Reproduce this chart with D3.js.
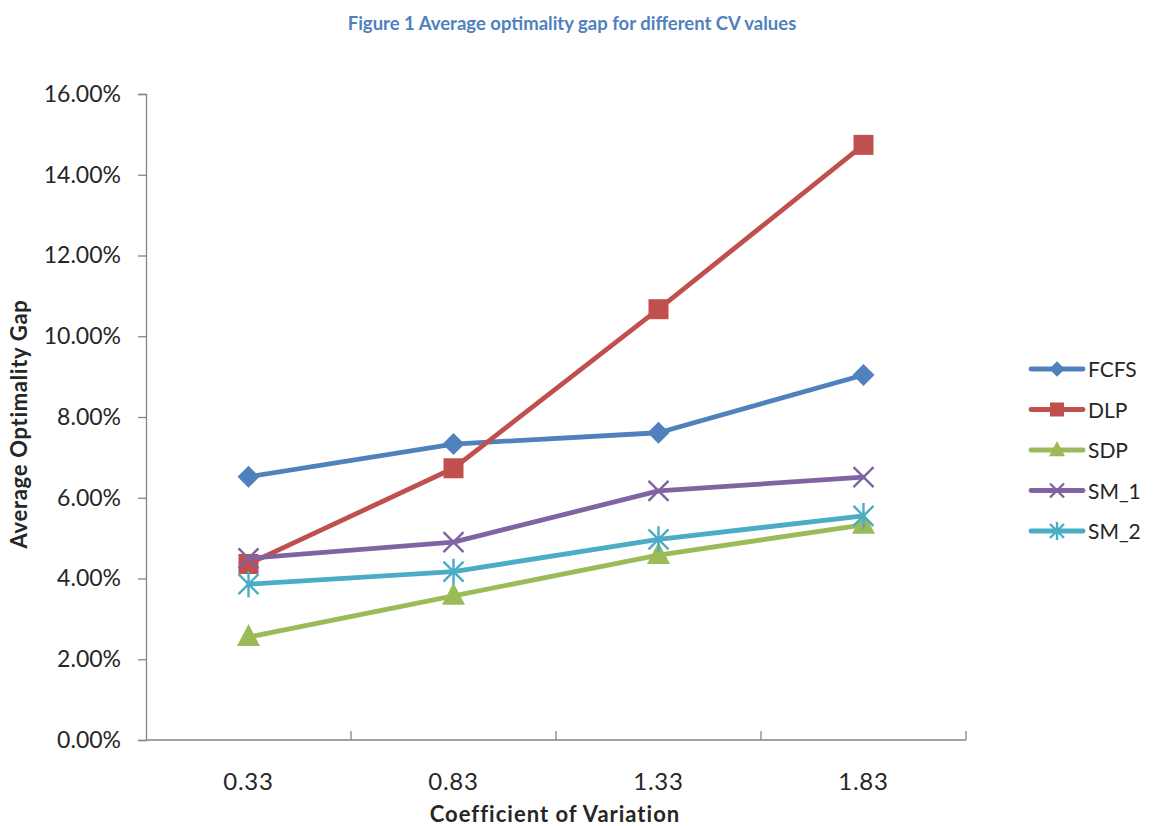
<!DOCTYPE html>
<html>
<head>
<meta charset="utf-8">
<script src="https://cdn.jsdelivr.net/npm/d3@7"></script>
<style>
  html, body { margin: 0; padding: 0; background: #fff; }
  svg { display: block; font-family: Lato, "Open Sans", sans-serif; }
</style>
</head>
<body>
<svg id="chart" width="1157" height="826"></svg>
<script>
// Coefficient of variation levels (x categories)
const categories = ["0.33", "0.83", "1.33", "1.83"];

// Average optimality gap (%) per heuristic
const seriesNames = ["FCFS", "DLP", "SDP", "SM_1", "SM_2"];
const fcfs = [6.52, 7.33, 7.61, 9.04];
const dlp  = [4.36, 6.73, 10.67, 14.74];
const sdp  = [2.55, 3.57, 4.58, 5.33];
const sm1  = [4.50, 4.90, 6.17, 6.51];
const sm2  = [3.86, 4.17, 4.97, 5.55];

const yTicks = [0, 2, 4, 6, 8, 10, 12, 14, 16];

const colors = ["#4F81BD", "#C0504D", "#9BBB59", "#8064A2", "#4BACC6"];
const markers = ["diamond", "square", "triangle", "x", "star"];
const values = [fcfs, dlp, sdp, sm1, sm2];

const series = seriesNames.map((name, i) => ({
  name, color: colors[i], marker: markers[i], values: values[i]
}));

const svg = d3.select("#chart");
const plot = { left: 146, right: 966, top: 94, bottom: 740 };

const x = d3.scaleBand().domain(categories).range([plot.left, plot.right]);
const y = d3.scaleLinear().domain([0, 16]).range([plot.bottom, plot.top]);

const axisColor = "#868686";
const textColor = "#262626";

// Title
svg.append("text")
  .attr("x", 572).attr("y", 30)
  .attr("text-anchor", "middle")
  .attr("font-weight", "bold")
  .attr("font-size", 18.5)
  .attr("fill", "#4F81BD")
  .text("Figure 1 Average optimality gap for different CV values");

// Y axis
const yAxis = svg.append("g")
  .attr("transform", `translate(${plot.left},0)`)
  .call(d3.axisLeft(y).tickValues(yTicks).tickSize(8).tickPadding(17)
    .tickFormat(d => d.toFixed(2) + "%"));
yAxis.select(".domain").attr("stroke", axisColor).attr("stroke-width", 1.3);
yAxis.selectAll(".tick line").attr("stroke", axisColor).attr("stroke-width", 1.3);
yAxis.selectAll(".tick text")
  .attr("font-size", 23).attr("fill", textColor)
  .attr("font-family", "Lato, sans-serif");

// X axis: tick marks sit at band boundaries and point into the plot
const boundaries = d3.range(1, categories.length).map(i => plot.left + i * x.bandwidth());
const xAxis = svg.append("g");
xAxis.append("line")
  .attr("x1", plot.left).attr("x2", plot.right)
  .attr("y1", plot.bottom).attr("y2", plot.bottom)
  .attr("stroke", axisColor).attr("stroke-width", 1.3);
xAxis.selectAll("line.tick").data(boundaries.concat([plot.right])).join("line")
  .attr("class", "tick")
  .attr("x1", d => d).attr("x2", d => d)
  .attr("y1", plot.bottom).attr("y2", plot.bottom - 9)
  .attr("stroke", axisColor).attr("stroke-width", 1.3);
xAxis.selectAll("text").data(categories).join("text")
  .attr("x", d => x(d) + x.bandwidth() / 2)
  .attr("y", 790)
  .attr("text-anchor", "middle")
  .attr("font-size", 24).attr("letter-spacing", 0.8).attr("fill", textColor)
  .text(d => d);

// Axis titles
svg.append("text")
  .attr("x", 555).attr("y", 822)
  .attr("text-anchor", "middle")
  .attr("font-weight", "bold").attr("font-size", 22).attr("letter-spacing", 1)
  .attr("fill", textColor)
  .text("Coefficient of Variation");

svg.append("text")
  .attr("transform", "translate(27,424) rotate(-90)")
  .attr("text-anchor", "middle")
  .attr("font-weight", "bold").attr("font-size", 22).attr("letter-spacing", 0.7)
  .attr("fill", textColor)
  .text("Average Optimality Gap");

// Marker drawing
function drawMarker(g, type, color, scale = 1) {
  const s = scale;
  if (type === "diamond") {
    g.append("path").attr("d", `M0,${-11*s}L${11*s},0L0,${11*s}L${-11*s},0Z`).attr("fill", color);
  } else if (type === "square") {
    g.append("rect").attr("x", -10*s).attr("y", -10*s).attr("width", 20*s).attr("height", 20*s).attr("fill", color);
  } else if (type === "triangle") {
    g.append("path").attr("d", `M0,${-13*s}L${11.5*s},${9*s}L${-11.5*s},${9*s}Z`).attr("fill", color);
  } else if (type === "x") {
    const r = 10 * s;
    g.append("path").attr("d", `M${-r},${-r}L${r},${r}M${-r},${r}L${r},${-r}`)
      .attr("stroke", color).attr("stroke-width", 2.4).attr("fill", "none");
  } else if (type === "star") {
    const r = 10 * s;
    g.append("path").attr("d", `M${-r},${-r}L${r},${r}M${-r},${r}L${r},${-r}M0,${-r*1.3}L0,${r*1.3}`)
      .attr("stroke", color).attr("stroke-width", 2.4).attr("fill", "none");
  }
}

const line = d3.line()
  .x((d, i) => x(categories[i]) + x.bandwidth() / 2)
  .y(d => y(d));

const plotG = svg.append("g");
series.forEach(s => {
  const g = plotG.append("g");
  g.append("path")
    .attr("d", line(s.values))
    .attr("fill", "none")
    .attr("stroke", s.color)
    .attr("stroke-width", 4.8)
    .attr("stroke-linejoin", "round")
    .attr("stroke-linecap", "round");
  s.values.forEach((v, i) => {
    const m = g.append("g")
      .attr("transform", `translate(${x(categories[i]) + x.bandwidth() / 2},${y(v)})`);
    drawMarker(m, s.marker, s.color);
  });
});

// Legend
const legend = svg.append("g").attr("transform", "translate(1031,369)");
series.forEach((s, i) => {
  const row = legend.append("g").attr("transform", `translate(0,${i * 40.5})`);
  row.append("line")
    .attr("x1", 0).attr("x2", 52).attr("y1", 0).attr("y2", 0)
    .attr("stroke", s.color).attr("stroke-width", 4.8).attr("stroke-linecap", "round");
  const m = row.append("g").attr("transform", "translate(26,0)");
  drawMarker(m, s.marker, s.color, 0.7);
  row.append("text")
    .attr("x", 57).attr("y", 8)
    .attr("font-size", 21).attr("fill", textColor)
    .text(s.name);
});
</script>
</body>
</html>
